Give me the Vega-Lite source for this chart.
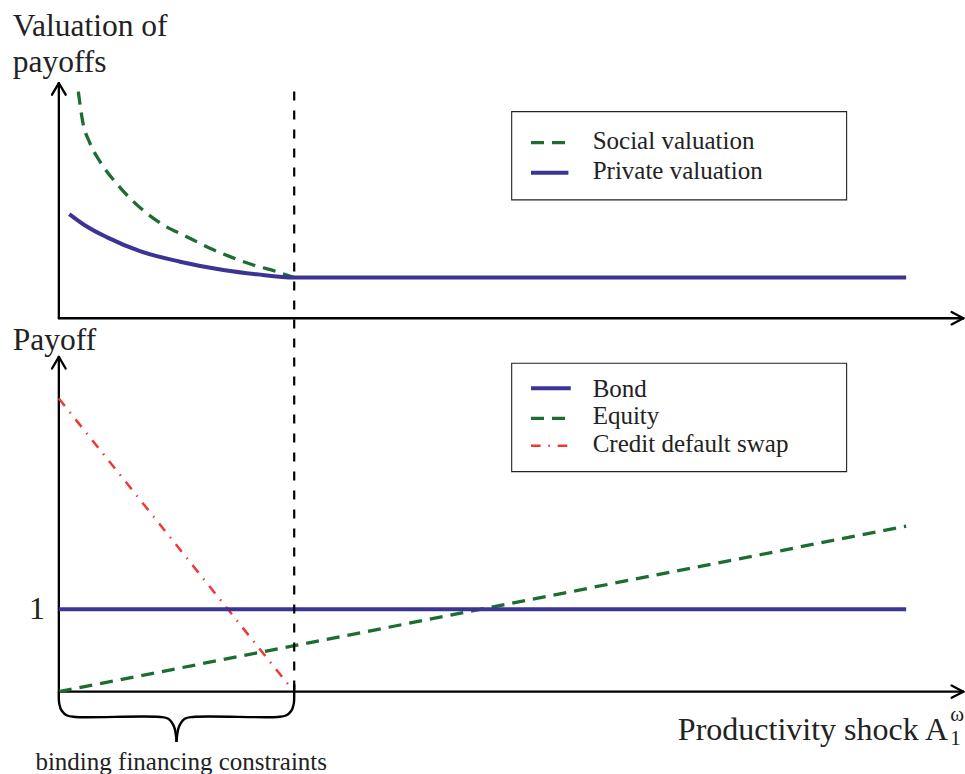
{
  "$schema": "https://vega.github.io/schema/vega-lite/v6.json",
  "width": 965,
  "height": 774,
  "autosize": "none",
  "padding": 0,
  "background": "white",
  "config": {"view": {"stroke": null}, "text": {"font": "Liberation Serif", "color": "#222222"}},
  "datasets": {
    "boxes": [
      {"panel": "valuation", "x": 19.24, "x2": 33.47, "y": 7.044, "y2": 5.972},
      {"panel": "payoff", "x": 19.24, "x2": 33.47, "y": 3.988, "y2": 2.672}
    ],
    "axes": [
      {"x": 0, "y": 4.535, "x2": 0, "y2": 7.39},
      {"x": -0.29, "y": 7.25, "x2": 0, "y2": 7.39},
      {"x": 0.29, "y": 7.25, "x2": 0, "y2": 7.39},
      {"x": 0, "y": 4.535, "x2": 38.43, "y2": 4.535},
      {"x": 37.93, "y": 4.61, "x2": 38.43, "y2": 4.535},
      {"x": 37.93, "y": 4.46, "x2": 38.43, "y2": 4.535},
      {"x": 0, "y": 0, "x2": 0, "y2": 4.065},
      {"x": -0.29, "y": 3.925, "x2": 0, "y2": 4.065},
      {"x": 0.29, "y": 3.925, "x2": 0, "y2": 4.065},
      {"x": 0, "y": 0, "x2": 38.43, "y2": 0},
      {"x": 37.93, "y": 0.075, "x2": 38.43, "y2": 0},
      {"x": 37.93, "y": -0.075, "x2": 38.43, "y2": 0}
    ],
    "lines": [
      {"series": "Social valuation", "part": "curve", "x": 0.827, "y": 7.287},
      {"series": "Social valuation", "part": "curve", "x": 1.014, "y": 6.923},
      {"series": "Social valuation", "part": "curve", "x": 1.324, "y": 6.66},
      {"series": "Social valuation", "part": "curve", "x": 1.749, "y": 6.437},
      {"series": "Social valuation", "part": "curve", "x": 2.386, "y": 6.194},
      {"series": "Social valuation", "part": "curve", "x": 3.024, "y": 5.992},
      {"series": "Social valuation", "part": "curve", "x": 3.733, "y": 5.81},
      {"series": "Social valuation", "part": "curve", "x": 4.438, "y": 5.668},
      {"series": "Social valuation", "part": "curve", "x": 5.432, "y": 5.526},
      {"series": "Social valuation", "part": "curve", "x": 6.422, "y": 5.385},
      {"series": "Social valuation", "part": "curve", "x": 7.272, "y": 5.283},
      {"series": "Social valuation", "part": "curve", "x": 8.262, "y": 5.182},
      {"series": "Social valuation", "part": "curve", "x": 9.256, "y": 5.101},
      {"series": "Social valuation", "part": "curve", "x": 10.0, "y": 5.03},
      {"series": "Social valuation", "part": "key", "x": 20.06, "y": 6.667},
      {"series": "Social valuation", "part": "key", "x": 21.65, "y": 6.667},
      {"series": "Private valuation", "part": "curve", "x": 0.444, "y": 5.8},
      {"series": "Private valuation", "part": "curve", "x": 1.1, "y": 5.665},
      {"series": "Private valuation", "part": "curve", "x": 2.033, "y": 5.52},
      {"series": "Private valuation", "part": "curve", "x": 3.448, "y": 5.35},
      {"series": "Private valuation", "part": "curve", "x": 5.148, "y": 5.222},
      {"series": "Private valuation", "part": "curve", "x": 6.987, "y": 5.121},
      {"series": "Private valuation", "part": "curve", "x": 8.406, "y": 5.069},
      {"series": "Private valuation", "part": "curve", "x": 10.0, "y": 5.03},
      {"series": "Private valuation", "part": "curve", "x": 36.0, "y": 5.03},
      {"series": "Private valuation", "part": "key", "x": 20.06, "y": 6.303},
      {"series": "Private valuation", "part": "key", "x": 21.65, "y": 6.303},
      {"series": "Bond", "part": "curve", "x": 0, "y": 1},
      {"series": "Bond", "part": "curve", "x": 36.0, "y": 1},
      {"series": "Bond", "part": "key", "x": 20.06, "y": 3.685},
      {"series": "Bond", "part": "key", "x": 21.75, "y": 3.685},
      {"series": "Equity", "part": "curve", "x": 0, "y": 0},
      {"series": "Equity", "part": "curve", "x": 36.0, "y": 2.01},
      {"series": "Equity", "part": "key", "x": 20.06, "y": 3.32},
      {"series": "Equity", "part": "key", "x": 21.75, "y": 3.32},
      {"series": "Credit default swap", "part": "curve", "x": 0, "y": 3.56},
      {"series": "Credit default swap", "part": "curve", "x": 9.85, "y": 0.05},
      {"series": "Credit default swap", "part": "key", "x": 20.06, "y": 2.988},
      {"series": "Credit default swap", "part": "key", "x": 21.75, "y": 2.988}
    ],
    "threshold": [
      {"x": 10.0, "y": 7.29, "y2": -0.06}
    ],
    "brace": [
      {"side": "left", "i": 0, "x": 0.0, "y": 0.0},
      {"side": "left", "i": 1, "x": 0.02, "y": -0.15},
      {"side": "left", "i": 2, "x": 0.13, "y": -0.235},
      {"side": "left", "i": 3, "x": 0.35, "y": -0.29},
      {"side": "left", "i": 4, "x": 0.7, "y": -0.307},
      {"side": "left", "i": 5, "x": 4.3, "y": -0.307},
      {"side": "left", "i": 6, "x": 4.65, "y": -0.33},
      {"side": "left", "i": 7, "x": 4.9, "y": -0.43},
      {"side": "left", "i": 8, "x": 5.0, "y": -0.61},
      {"side": "right", "i": 0, "x": 5.0, "y": -0.61},
      {"side": "right", "i": 1, "x": 5.1, "y": -0.43},
      {"side": "right", "i": 2, "x": 5.35, "y": -0.33},
      {"side": "right", "i": 3, "x": 5.7, "y": -0.307},
      {"side": "right", "i": 4, "x": 9.3, "y": -0.307},
      {"side": "right", "i": 5, "x": 9.65, "y": -0.29},
      {"side": "right", "i": 6, "x": 9.87, "y": -0.235},
      {"side": "right", "i": 7, "x": 9.98, "y": -0.15},
      {"side": "right", "i": 8, "x": 10.0, "y": 0.0},
      {"side": "right", "i": 9, "x": 10.0, "y": 0.09}
    ],
    "texts": [
      {"kind": "title", "label": "Valuation of", "x": -1.96, "y": 7.963},
      {"kind": "title", "label": "payoffs", "x": -1.96, "y": 7.53},
      {"kind": "title", "label": "Payoff", "x": -1.96, "y": 4.15},
      {"kind": "tick", "label": "1", "x": -0.59, "y": 0.883},
      {"kind": "tick", "label": "Productivity shock A", "x": 37.78, "y": -0.587},
      {"kind": "script", "label": "ω", "x": 37.87, "y": -0.356},
      {"kind": "script", "label": "1", "x": 37.87, "y": -0.647},
      {"kind": "legend", "label": "Social valuation", "x": 22.68, "y": 6.587},
      {"kind": "legend", "label": "Private valuation", "x": 22.68, "y": 6.223},
      {"kind": "legend", "label": "Bond", "x": 22.68, "y": 3.583},
      {"kind": "legend", "label": "Equity", "x": 22.68, "y": 3.245},
      {"kind": "legend", "label": "Credit default swap", "x": 22.68, "y": 2.907},
      {"kind": "brace", "label": "binding financing constraints", "x": 5.2, "y": -0.951}
    ]
  },
  "encoding": {
    "x": {"field": "x", "type": "quantitative", "scale": {"domain": [-2.5, 38.5], "nice": false, "zero": false}, "axis": null},
    "y": {"field": "y", "type": "quantitative", "scale": {"domain": [-1, 8.4], "nice": false, "zero": false}, "axis": null}
  },
  "layer": [
    {
      "data": {"name": "boxes"},
      "mark": {"type": "rect", "fill": "white", "stroke": "#222222", "strokeWidth": 1.1},
      "encoding": {"x2": {"field": "x2"}, "y2": {"field": "y2"}}
    },
    {
      "data": {"name": "axes"},
      "mark": {"type": "rule", "color": "black", "strokeWidth": 2.3, "strokeCap": "round"},
      "encoding": {"x2": {"field": "x2"}, "y2": {"field": "y2"}}
    },
    {
      "data": {"name": "lines"},
      "transform": [{"filter": "datum.series === 'Credit default swap'"}],
      "mark": {"type": "line", "color": "#ee3a33", "strokeWidth": 2.5, "strokeDash": [9.6, 7.8, 1.5, 7.8]},
      "encoding": {"detail": {"field": "part"}}
    },
    {
      "data": {"name": "lines"},
      "transform": [{"filter": "datum.series === 'Equity'"}],
      "mark": {"type": "line", "color": "#1b6d31", "strokeWidth": 3.3, "strokeDash": [13, 8]},
      "encoding": {"detail": {"field": "part"}}
    },
    {
      "data": {"name": "lines"},
      "transform": [{"filter": "datum.series === 'Bond'"}],
      "mark": {"type": "line", "color": "#3b3494", "strokeWidth": 4},
      "encoding": {"detail": {"field": "part"}}
    },
    {
      "data": {"name": "lines"},
      "transform": [{"filter": "datum.series === 'Social valuation'"}],
      "mark": {"type": "line", "color": "#1b6d31", "strokeWidth": 3.3, "strokeDash": [13, 8], "interpolate": "monotone"},
      "encoding": {"detail": {"field": "part"}}
    },
    {
      "data": {"name": "lines"},
      "transform": [{"filter": "datum.series === 'Private valuation'"}],
      "mark": {"type": "line", "color": "#3b3494", "strokeWidth": 4, "interpolate": "monotone"},
      "encoding": {"detail": {"field": "part"}}
    },
    {
      "data": {"name": "threshold"},
      "mark": {"type": "rule", "color": "black", "strokeWidth": 2.2, "strokeDash": [9, 10]},
      "encoding": {"y2": {"field": "y2"}}
    },
    {
      "data": {"name": "brace"},
      "mark": {"type": "line", "color": "black", "strokeWidth": 2.4, "interpolate": "catmull-rom"},
      "encoding": {"detail": {"field": "side"}, "order": {"field": "i", "type": "quantitative"}}
    },
    {
      "data": {"name": "texts"},
      "transform": [{"filter": "datum.kind === 'title'"}],
      "mark": {"type": "text", "font": "Liberation Serif", "fontSize": 31.5, "align": "left", "baseline": "alphabetic"},
      "encoding": {"text": {"field": "label"}}
    },
    {
      "data": {"name": "texts"},
      "transform": [{"filter": "datum.kind === 'tick'"}],
      "mark": {"type": "text", "font": "Liberation Serif", "fontSize": 32, "align": "right", "baseline": "alphabetic"},
      "encoding": {"text": {"field": "label"}}
    },
    {
      "data": {"name": "texts"},
      "transform": [{"filter": "datum.kind === 'script'"}],
      "mark": {"type": "text", "font": "Liberation Serif", "fontSize": 21, "align": "left", "baseline": "alphabetic"},
      "encoding": {"text": {"field": "label"}}
    },
    {
      "data": {"name": "texts"},
      "transform": [{"filter": "datum.kind === 'legend'"}],
      "mark": {"type": "text", "font": "Liberation Serif", "fontSize": 25, "align": "left", "baseline": "alphabetic"},
      "encoding": {"text": {"field": "label"}}
    },
    {
      "data": {"name": "texts"},
      "transform": [{"filter": "datum.kind === 'brace'"}],
      "mark": {"type": "text", "font": "Liberation Serif", "fontSize": 25, "align": "center", "baseline": "alphabetic"},
      "encoding": {"text": {"field": "label"}}
    }
  ]
}
